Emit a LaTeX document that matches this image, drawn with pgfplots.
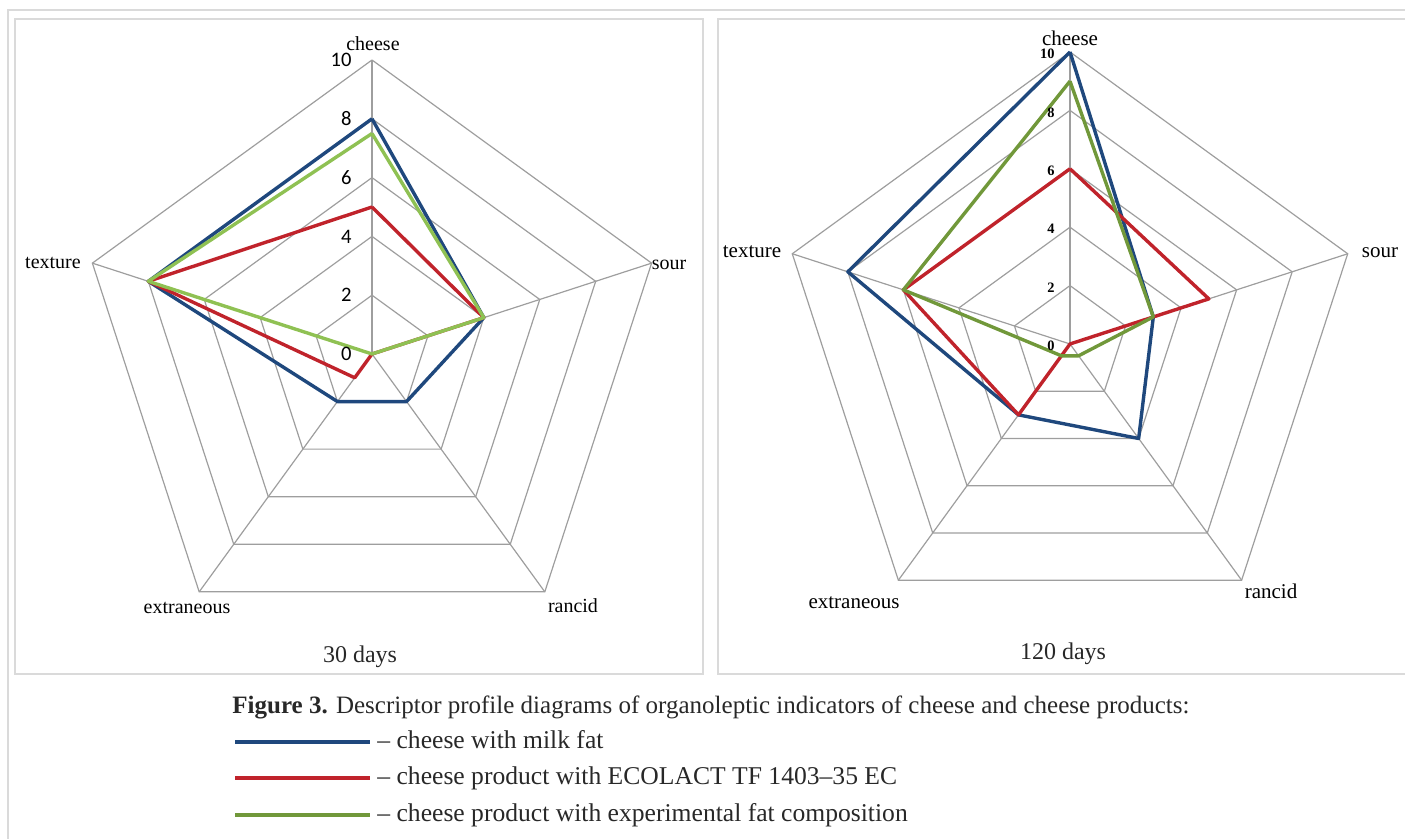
\documentclass[border=0pt]{standalone}
\usepackage{fontspec}
\setmainfont{Liberation Serif}
\newfontfamily\calibri{Carlito}
\usepackage{pgfplots}
\pgfplotsset{compat=1.18}
\usepgfplotslibrary{polar}

\definecolor{cblue}{RGB}{31,72,125}
\definecolor{cred}{RGB}{192,35,43}
\definecolor{cgreenL}{RGB}{143,193,83}
\definecolor{cgreenR}{RGB}{113,152,58}
\definecolor{cgrid}{RGB}{158,158,158}
\definecolor{cframe}{RGB}{218,218,218}
\definecolor{ctext}{RGB}{40,40,40}

\pgfplotsset{
 radar/.style={
  scale only axis, width=#1, height=#1, ymin=0, ymax=10,
  hide axis, clip=false,
 },
 gridline/.style={cgrid, line width=0.6pt, mark=none, forget plot},
 series/.style={line width=1.7pt, mark=none, line join=round},
}
\tikzset{
 tickL/.style={anchor=east, font=\calibri\fontsize{10.3}{11}\selectfont, inner sep=0pt, xshift=-10pt},
 tickR/.style={anchor=east, font=\bfseries\fontsize{7.2}{8}\selectfont, inner sep=0pt, xshift=-7.5pt, yshift=-1pt},
}

\newcommand{\radargrid}{%
  \addplot[gridline] coordinates {(90,2)(18,2)(306,2)(234,2)(162,2)(90,2)};
  \addplot[gridline] coordinates {(90,4)(18,4)(306,4)(234,4)(162,4)(90,4)};
  \addplot[gridline] coordinates {(90,6)(18,6)(306,6)(234,6)(162,6)(90,6)};
  \addplot[gridline] coordinates {(90,8)(18,8)(306,8)(234,8)(162,8)(90,8)};
  \addplot[gridline] coordinates {(90,10)(18,10)(306,10)(234,10)(162,10)(90,10)};
  \addplot[gridline] coordinates {(90,0)(90,10)};
  \addplot[gridline] coordinates {(18,0)(18,10)};
  \addplot[gridline] coordinates {(306,0)(306,10)};
  \addplot[gridline] coordinates {(234,0)(234,10)};
  \addplot[gridline] coordinates {(162,0)(162,10)};
}

\begin{document}
\begin{tikzpicture}
\begin{scope}[x=0.5pt,y=0.5pt]
% frames
\draw[cframe, line width=1pt] (1405,828.5) -- (8,828.5) -- (8,0);
\draw[cframe, line width=1pt] (15,819.5) rectangle (703,165);
\draw[cframe, line width=1pt] (1405,819.5) -- (718,819.5) -- (718,165) -- (1405,165);
\end{scope}

% ---------- 30 days ----------
\begin{polaraxis}[radar=294pt, at={(186pt,242.5pt)}, anchor=origin]
\radargrid
\addplot[series, cblue]   coordinates {(90,8)(18,4)(306,2)(234,2)(162,8)(90,8)};
\addplot[series, cred]    coordinates {(90,5)(18,4)(306,0)(234,1)(162,8)(90,5)};
\addplot[series, cgreenL] coordinates {(90,7.5)(18,4)(306,0)(234,0)(162,8)(90,7.5)};
\node[tickL] at (axis cs:90,0) {0};
\node[tickL] at (axis cs:90,2) {2};
\node[tickL] at (axis cs:90,4) {4};
\node[tickL] at (axis cs:90,6) {6};
\node[tickL] at (axis cs:90,8) {8};
\node[tickL] at (axis cs:90,10) {10};
\end{polaraxis}

% ---------- 120 days ----------
\begin{polaraxis}[radar=292pt, at={(535pt,247.5pt)}, anchor=origin]
\radargrid
\addplot[series, cblue]   coordinates {(90,10)(18,3)(306,4)(234,3)(162,8)(90,10)};
\addplot[series, cred]    coordinates {(90,6)(18,5)(306,0)(234,3)(162,6)(90,6)};
\addplot[series, cgreenR] coordinates {(90,9)(18,3)(306,0.5)(234,0.5)(162,6)(90,9)};
\node[tickR] at (axis cs:90,0) {0};
\node[tickR] at (axis cs:90,2) {2};
\node[tickR] at (axis cs:90,4) {4};
\node[tickR] at (axis cs:90,6) {6};
\node[tickR] at (axis cs:90,8) {8};
\node[tickR] at (axis cs:90,10) {10};
\end{polaraxis}

\begin{scope}[x=0.5pt,y=0.5pt]
% category labels 30 days
\begin{scope}[every node/.style={anchor=base, inner sep=0pt, font=\fontsize{10}{12}\selectfont}]
\node at (373,788) {cheese};
\node at (53,570) {texture};
\node at (669,569) {sour};
\node at (573,226) {rancid};
\node at (187,225) {extraneous};
\end{scope}
% category labels 120 days
\begin{scope}[every node/.style={anchor=base, inner sep=0pt, font=\fontsize{10.5}{12}\selectfont}]
\node at (1070,793) {cheese};
\node at (752,581) {texture};
\node at (1380,581) {sour};
\node at (1271,240) {rancid};
\node at (854,230) {extraneous};
\end{scope}

% panel captions
\node[anchor=base, inner sep=0pt, font=\fontsize{12}{14}\selectfont, text=ctext] at (360,176) {30 days};
\node[anchor=base, inner sep=0pt, font=\fontsize{12}{14}\selectfont, text=ctext] at (1063,179) {120 days};

% figure caption and legend
\node[anchor=base west, inner sep=0pt, font=\fontsize{12.5}{14}\selectfont, text=ctext] at (232,125)
  {\textbf{Figure 3.} Descriptor profile diagrams of organoleptic indicators of cheese and cheese products:};
\draw[cblue, line width=2pt] (235,97) -- (370,97);
\draw[cred, line width=2pt] (235,61) -- (370,61);
\draw[cgreenR, line width=2pt] (235,24) -- (370,24);
\begin{scope}[every node/.style={anchor=base west, inner sep=0pt, font=\fontsize{12.8}{14}\selectfont, text=ctext}]
\node at (377,90) {-- cheese with milk fat};
\node at (377,54) {-- cheese product with ECOLACT TF 1403--35 EC};
\node at (377,17) {-- cheese product with experimental fat composition};
\end{scope}
\end{scope}

\pgfresetboundingbox
\path[use as bounding box] (0,0) rectangle (702.5pt,419.5pt);
\end{tikzpicture}
\end{document}
